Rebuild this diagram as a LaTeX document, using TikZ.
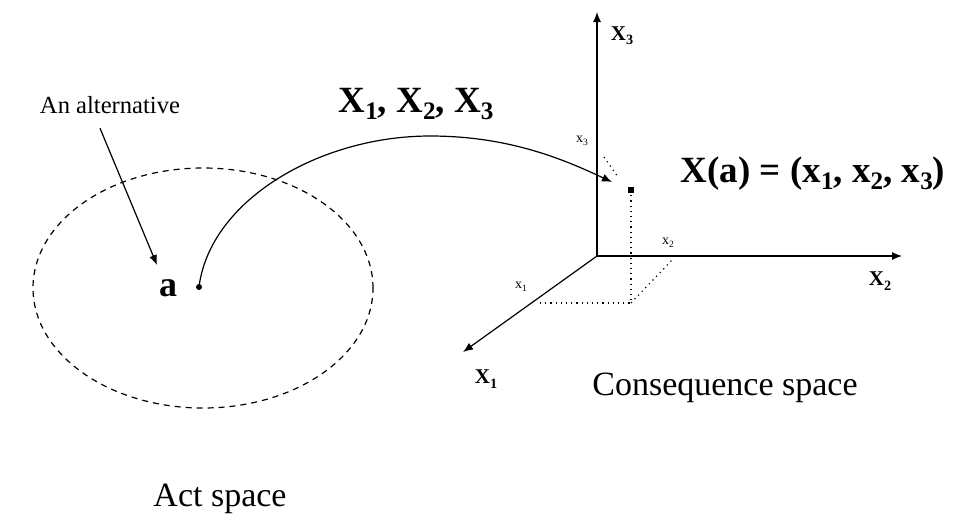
\documentclass[tikz,border=0pt]{standalone}
\usepackage{fontspec}
\setmainfont{Liberation Serif}
\usetikzlibrary{arrows.meta, shapes.geometric}

\newcommand{\lowsub}[1]{\raisebox{-0.45ex}{\fontsize{0.68em}{1em}\selectfont #1}}

\begin{document}
\begin{tikzpicture}[x=0.5pt, y=-0.5pt, >={Latex[length=5pt,width=4pt]}, line width=0.6pt,
    axis/.style={->},
    proj/.style={dotted, line width=0.6pt},
    biglabel/.style={font=\fontsize{18.5}{20}\selectfont\bfseries, inner sep=0pt, anchor=base},
    axlabel/.style={font=\fontsize{10.5}{11}\selectfont\bfseries, inner sep=0pt},
    smalllabel/.style={font=\fontsize{7}{8}\selectfont, inner sep=0pt},
    spacelabel/.style={font=\fontsize{17}{19}\selectfont, inner sep=0pt, anchor=base}]
    \useasboundingbox (0,0) rectangle (956,521);

    % act space
    \node[draw, dash pattern=on 3pt off 2.5pt, ellipse, minimum width=170pt, minimum height=120pt, inner sep=0pt] (act) at (203,288) {};
    \node[font=\fontsize{12.3}{14}\selectfont, inner sep=0pt] (alt) at (110,105) {An alternative};
    \node[font=\fontsize{18}{20}\selectfont\bfseries, inner sep=0pt] (alab) at (168,288) {a};
    \fill (199,287) circle (3) coordinate (adot);
    \coordinate (tipa) at (157,265);
    \draw[->] (alt.south) ++(-10,14) -- (tipa);
    \node[spacelabel] (actlab) at (220,506) {Act space};

    % consequence space
    \coordinate (O) at (597,256);
    \coordinate (e3) at (597,12);
    \coordinate (e2) at (902,256);
    \coordinate (e1) at (463,352);
    \draw[axis] (O) -- (e3);
    \draw[axis] (O) -- (e2);
    \draw[axis] (O) -- (e1);
    \node[axlabel] (lab3) at (622,36) {X\lowsub{3}};
    \node[axlabel] (lab2) at (880,281) {X\lowsub{2}};
    \node[axlabel] (lab1) at (486,379) {X\lowsub{1}};

    \fill (628,187) rectangle (634,193);
    \coordinate (pt) at (631,190);
    \coordinate (p12) at (631,303);
    \coordinate (p1) at (538,303);
    \coordinate (p2) at (672,260);
    \draw[proj] (pt) -- (p12) -- (p1);
    \draw[proj] (p12) -- (p2);
    \draw[proj] (604,157) -- (618,177);
    \node[smalllabel] (s1) at (521,287) {x\lowsub{1}};
    \node[smalllabel] (s2) at (668,243) {x\lowsub{2}};
    \node[smalllabel] (s3) at (582,141) {x\lowsub{3}};

    \node[biglabel] (xa) at (813,182) {X(a) = (x\lowsub{1}, x\lowsub{2}, x\lowsub{3})};
    \node[spacelabel] (conlab) at (725,395) {Consequence space};

    % mapping
    \coordinate (tip3) at (612,182);
    \draw[->] (adot) .. controls (210,200) and (320,136) .. (430,136)
        .. controls (510,136) and (565,160) .. (tip3);
    \node[biglabel] (maplab) at (416,112) {X\lowsub{1}, X\lowsub{2}, X\lowsub{3}};
\end{tikzpicture}
\end{document}
